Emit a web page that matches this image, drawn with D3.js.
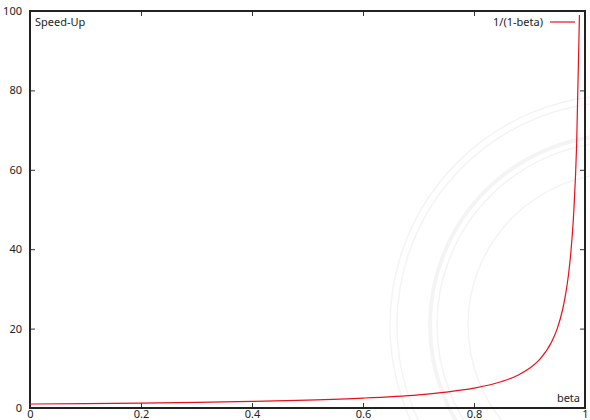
<!DOCTYPE html>
<html>
<head>
<meta charset="utf-8">
<script src="https://cdn.jsdelivr.net/npm/d3@7"></script>
<style>
  body { margin: 0; background: #fff; }
  text { font-family: "Noto Sans", sans-serif; font-size: 11px; fill: #222; }
</style>
</head>
<body>
<div id="chart"></div>
<script>
// values
var beta    = [0, 0.1, 0.2, 0.3, 0.4, 0.5, 0.6, 0.7, 0.75, 0.8, 0.85, 0.88, 0.9, 0.92, 0.94, 0.95, 0.96, 0.965, 0.97, 0.975, 0.98, 0.985, 0.99];
var speedUp = [1, 1.11, 1.25, 1.43, 1.67, 2, 2.5, 3.33, 4, 5, 6.67, 8.33, 10, 12.5, 16.7, 20, 25, 28.6, 33.3, 40, 50, 66.7, 99];
var xTicks = [0, 0.2, 0.4, 0.6, 0.8, 1];
var yTicks = [0, 20, 40, 60, 80, 100];
var seriesName = "1/(1-beta)";

var W = 590, H = 420;
var margin = { left: 30, right: 5, top: 11, bottom: 12 };
var width = W - margin.left - margin.right,
    height = H - margin.top - margin.bottom;

var svg = d3.select("#chart").append("svg")
    .attr("width", W)
    .attr("height", H);

// faint seal watermark (rings only)
var seal = svg.append("g").attr("fill", "none").attr("stroke", "#f4f4f4");
[230, 223, 190, 183, 152].forEach(function(r, i) {
    seal.append("circle")
        .attr("cx", 620).attr("cy", 325).attr("r", r)
        .attr("stroke-width", i == 2 ? 4 : 1.5);
});

var g = svg.append("g")
    .attr("transform", "translate(" + margin.left + "," + margin.top + ")");

var x = d3.scaleLinear().domain([0, 1]).range([0, width]);
var y = d3.scaleLinear().domain([0, 100]).range([height, 0]);

// axes with inward ticks, mirrored on top/right
g.append("g")
    .attr("transform", "translate(0," + height + ")")
    .call(d3.axisBottom(x).tickValues(xTicks).tickSizeInner(-5).tickSizeOuter(0).tickPadding(2)
        .tickFormat(function(d) { return d; }));
g.append("g")
    .call(d3.axisLeft(y).tickValues(yTicks).tickSizeInner(-5).tickSizeOuter(0).tickPadding(8));
g.append("g")
    .call(d3.axisTop(x).tickValues(xTicks).tickSizeInner(-5).tickSizeOuter(0).tickFormat(""));
g.append("g")
    .attr("transform", "translate(" + width + ",0)")
    .call(d3.axisRight(y).tickValues(yTicks).tickSizeInner(-5).tickSizeOuter(0).tickFormat(""));

g.selectAll(".domain").remove();
g.selectAll(".tick line").attr("stroke", "#333").attr("stroke-width", 1);
g.selectAll(".tick text").style("font-family", "Noto Sans, sans-serif").style("font-size", "11px").attr("fill", "#222");

g.append("rect")
    .attr("width", width).attr("height", height)
    .attr("fill", "none").attr("stroke", "#222").attr("stroke-width", 2);

// curve
var pts = beta.map(function(b, i) { return [b, speedUp[i]]; });
var line = d3.line()
    .x(function(d) { return x(d[0]); })
    .y(function(d) { return y(d[1]); })
    .curve(d3.curveMonotoneX);
g.append("path")
    .datum(pts)
    .attr("fill", "none")
    .attr("stroke", "#e8101a")
    .attr("stroke-width", 1.2)
    .attr("d", line);

// labels
g.append("text").attr("x", 5).attr("y", 15).text("Speed-Up");
g.append("text").attr("x", width - 5).attr("y", height - 6).attr("text-anchor", "end").text("beta");

// legend
g.append("text").attr("x", width - 42).attr("y", 15).attr("text-anchor", "end").text(seriesName);
g.append("line")
    .attr("x1", width - 35).attr("x2", width - 10)
    .attr("y1", 11).attr("y2", 11)
    .attr("stroke", "#e8101a").attr("stroke-width", 1.2);
</script>
</body>
</html>
